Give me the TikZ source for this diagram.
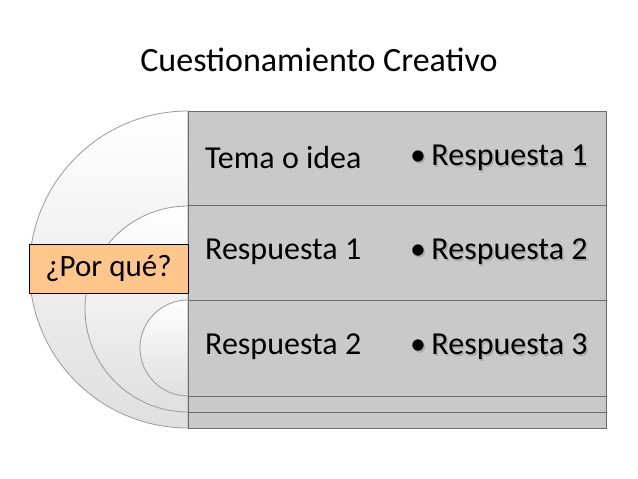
\documentclass[tikz,border=0pt]{standalone}
\usepackage{fontspec}
\setmainfont{Carlito}
\begin{document}
\begin{tikzpicture}[x=1pt,y=-1pt,
  arcst/.style={draw=gray!80, line width=0.8pt, top color=white, bottom color=gray!25},
  txt/.style={anchor=west, font=\fontsize{32}{36}\selectfont, inner sep=0pt},
  btxt/.style={anchor=west, font=\fontsize{32}{36}\selectfont, inner sep=0pt}]
\useasboundingbox (0,0) rectangle (638,479);
% arcs
\draw[arcst] (188,111) arc[start angle=270,end angle=90,radius=158.5] -- cycle;
\draw[arcst] (188,206) arc[start angle=270,end angle=90,radius=103] -- cycle;
\draw[arcst] (188,300) arc[start angle=270,end angle=90,radius=48] -- cycle;
% rectangle
\fill[gray!42] (188,111) rectangle (606,428);
\draw[gray!85!black, line width=0.8pt] (188,111) rectangle (606,428);
\draw[gray!85!black, line width=0.8pt] (188,205) -- (606,205) (188,300) -- (606,300) (188,396) -- (606,396) (188,412) -- (606,412);
% title
\node[font=\fontsize{34}{38}\selectfont] (title) at (319,60) {Cuestionamiento Creativo};
% rows
\node[txt] (r1) at (205,158) {Tema o idea};
\node[txt] (r2) at (205,252) {Respuesta 1};
\node[txt] (r3) at (205,347) {Respuesta 2};
\foreach \y/\t [count=\i] in {158/1,252/2,347/3}{
  \node[btxt, text=black!50, opacity=0.4] at (411.5,\y+1.5) {\textbullet\,Respuesta \t};
  \node[btxt] (b\i) at (410,\y) {\textbullet\,Respuesta \t};
}
% por que
\node[draw=black, fill=orange!45!white, line width=0.6pt, minimum width=159pt, minimum height=49pt, font=\fontsize{31}{34}\selectfont, inner sep=0pt] (pq) at (108.5,268.5) {¿Por qué?};
\end{tikzpicture}
\end{document}
